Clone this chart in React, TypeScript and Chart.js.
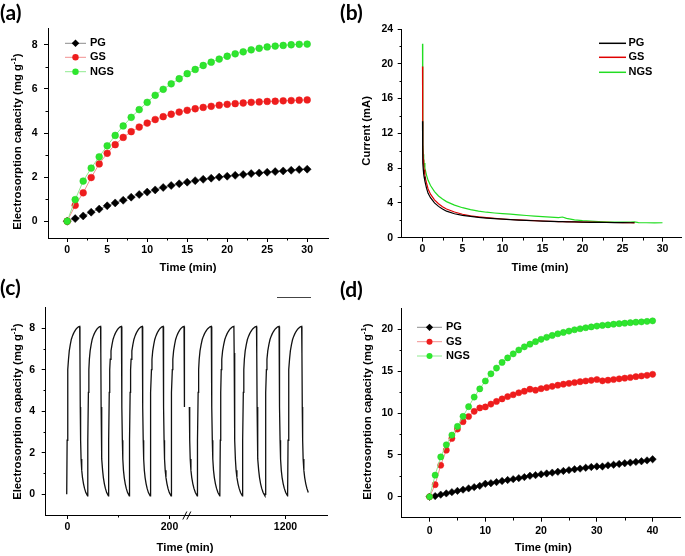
import React, { useEffect, useRef } from "react";
import { Chart, registerables } from "chart.js";

Chart.register(...registerables);

const FONT = '"Liberation Sans", Arial, sans-serif';
const TITLE_SIZE = 11.3;
const TICK_SIZE = 10.5;

// ---------------- (a) electrosorption capacity, 30 min ----------------
const aTime = [0, 1, 2, 3, 4, 5, 6, 7, 8, 9, 10, 11, 12, 13, 14, 15, 16, 17, 18, 19, 20, 21, 22, 23, 24, 25, 26, 27, 28, 29, 30];
const aPG = [0, 0.12, 0.24, 0.41, 0.55, 0.7, 0.83, 0.95, 1.09, 1.21, 1.32, 1.42, 1.53, 1.62, 1.7, 1.77, 1.84, 1.9, 1.95, 2.0, 2.04, 2.08, 2.12, 2.16, 2.19, 2.22, 2.25, 2.28, 2.31, 2.34, 2.36];
const aGS = [0, 0.72, 1.29, 1.98, 2.6, 3.08, 3.47, 3.8, 4.06, 4.27, 4.45, 4.61, 4.74, 4.85, 4.95, 5.03, 5.1, 5.16, 5.21, 5.26, 5.3, 5.33, 5.36, 5.39, 5.41, 5.43, 5.44, 5.46, 5.47, 5.49, 5.5];
const aNGS = [0, 0.98, 1.82, 2.41, 2.92, 3.42, 3.89, 4.32, 4.71, 5.06, 5.39, 5.71, 5.98, 6.23, 6.46, 6.69, 6.88, 7.06, 7.21, 7.35, 7.48, 7.59, 7.68, 7.77, 7.84, 7.9, 7.94, 7.97, 8.0, 8.02, 8.03];
const aXTicks = [0, 5, 10, 15, 20, 25, 30];
const aXMinor = [2.5, 7.5, 12.5, 17.5, 22.5, 27.5];
const aYTicks = [0, 2, 4, 6, 8];
const aYMinor = [1, 3, 5, 7];

// ---------------- (b) current ----------------
const bTime = [0, 0.02, 0.05, 0.1, 0.15, 0.2, 0.3, 0.4, 0.5, 0.7, 1, 1.5, 2, 2.5, 3, 4, 5, 6, 7, 8, 9, 10, 11, 12, 13, 14, 15, 16, 17, 17.5, 18, 19, 20, 21, 22, 23, 24, 25, 26, 26.5, 27, 28, 29, 30];
const bPG = [13.4, 10.5, 8.6, 7.8, 7.3, 7.0, 6.5, 6.1, 5.7, 5.1, 4.6, 4.0, 3.6, 3.3, 3.05, 2.75, 2.57, 2.45, 2.34, 2.26, 2.19, 2.13, 2.08, 2.03, 1.99, 1.95, 1.91, 1.88, 1.85, 1.84, 1.83, 1.81, 1.79, 1.77, 1.76, 1.75, 1.74, 1.73, 1.72, 1.72];
const bGS = [19.7, 14, 10.5, 9.0, 8.3, 7.8, 7.2, 6.7, 6.3, 5.6, 5.0, 4.35, 3.9, 3.55, 3.3, 2.95, 2.7, 2.52, 2.4, 2.3, 2.22, 2.15, 2.09, 2.04, 2.0, 1.96, 1.92, 1.89, 1.86, 1.85, 1.84, 1.82, 1.8, 1.78, 1.77, 1.76, 1.75, 1.74, 1.72, 1.71];
const bNGS = [22.3, 15, 10.8, 9.6, 9.0, 8.6, 8.0, 7.6, 7.2, 6.6, 6.0, 5.3, 4.8, 4.45, 4.15, 3.75, 3.45, 3.22, 3.05, 2.93, 2.84, 2.77, 2.7, 2.62, 2.55, 2.48, 2.42, 2.36, 2.32, 2.38, 2.22, 2.06, 1.96, 1.9, 1.86, 1.82, 1.8, 1.78, 1.79, 1.82, 1.74, 1.72, 1.71, 1.72];
const bXTicks = [0, 5, 10, 15, 20, 25, 30];
const bXMinor = [2.5, 7.5, 12.5, 17.5, 22.5, 27.5];
const bYTicks = [0, 4, 8, 12, 16, 20, 24];
const bYMinor = [2, 6, 10, 14, 18, 22];

// ---------------- (c) cycling, broken time axis ----------------
const cCycleOffset = [0, 0.8, 1.6, 2.5, 3.5, 5, 7, 9, 11, 13, 15, 17, 19, 21, 23, 25.5, 26.0, 26.6, 27.3, 28.2, 29.5, 31, 33, 35, 37.5, 40.9];
const cCycleValue = [0, 2.6, 4.9, 6.0, 6.5, 6.9, 7.2, 7.45, 7.6, 7.72, 7.82, 7.9, 7.97, 8.02, 8.06, 8.08, 6.8, 4.2, 2.6, 1.7, 1.15, 0.8, 0.5, 0.28, 0.08, -0.08];
const cLeftCycleStarts = [0, 41, 82, 123, 164, 205];
const cRightCycleStarts = [999, 1040, 1081, 1122, 1163, 1204];
const cLeftEnd = 231.7;
const cRightBegin = 1025.3;
const cRightEnd = 1242;
const cBreakAt = 236;
const cXLeftMajor = [0, 200];
const cXLeftMinor = [100];
const cXRightMajor = [1200];
const cXRightMinor = [1100];
const cYTicks = [0, 2, 4, 6, 8];
const cYMinor = [1, 3, 5, 7];

// ---------------- (d) electrosorption capacity, 40 min ----------------
const dTime = [0, 1, 2, 3, 4, 5, 6, 7, 8, 9, 10, 11, 12, 13, 14, 15, 16, 17, 18, 19, 20, 21, 22, 23, 24, 25, 26, 27, 28, 29, 30, 31, 32, 33, 34, 35, 36, 37, 38, 39, 40];
const dPG = [0, 0.08, 0.25, 0.4, 0.55, 0.7, 0.85, 1.0, 1.15, 1.3, 1.55, 1.62, 1.75, 1.88, 2.0, 2.1, 2.22, 2.35, 2.5, 2.58, 2.68, 2.78, 2.88, 2.98, 3.08, 3.18, 3.28, 3.36, 3.46, 3.55, 3.62, 3.62, 3.75, 3.82, 3.92, 4.0, 4.08, 4.16, 4.24, 4.34, 4.48];
const dGS = [0, 1.44, 3.76, 5.56, 6.96, 8.08, 8.96, 9.58, 10.2, 10.6, 10.72, 11.06, 11.38, 11.68, 11.96, 12.18, 12.42, 12.6, 12.84, 12.72, 12.9, 13.04, 13.18, 13.32, 13.44, 13.54, 13.64, 13.74, 13.82, 13.9, 14.0, 13.84, 13.92, 14.0, 14.08, 14.16, 14.24, 14.34, 14.42, 14.5, 14.62];
const dNGS = [0, 2.58, 4.76, 6.2, 7.36, 8.4, 9.6, 10.76, 11.9, 12.88, 13.82, 14.68, 15.36, 16.04, 16.58, 17.06, 17.52, 17.9, 18.22, 18.52, 18.8, 19.04, 19.26, 19.46, 19.62, 19.78, 19.94, 20.06, 20.18, 20.28, 20.38, 20.46, 20.52, 20.6, 20.66, 20.72, 20.78, 20.84, 20.88, 20.94, 21.0];
const dXTicks = [0, 10, 20, 30, 40];
const dXMinor = [5, 15, 25, 35];
const dYTicks = [0, 5, 10, 15, 20];
const dYMinor = [2.5, 7.5, 12.5, 17.5];

const seriesNames = ["PG", "GS", "NGS"];

// ---------------- helpers ----------------
type Box = { left: number; top: number; width: number; height: number };
type Area = { l: number; t: number; r: number; b: number };
type Marker = { style: "circle" | "diamond"; color: string; r: number };
type LegendEntry = { label: string; line: string; lineWidth: number; marker?: Marker; y: number };
type Decor = {
  minorX?: number[];
  minorY?: number[];
  yTitle: { x: number; y: number; text: string; sup?: string; tail?: string };
  xTitle: { x: number; y: number; text: string };
  legend?: { x1: number; x2: number; tx: number; entries: LegendEntry[] };
  brokenX?: { leftMajor: number[]; leftMinor: number[]; rightMajor: number[]; rightMinor: number[]; labelY: number; breakAt: number };
};

const pts = (xs: number[], ys: number[]) => ys.map((y, i) => ({ x: xs[i], y }));

function buildCycles(starts: number[], lo: number, hi: number) {
  const out: { x: number; y: number }[] = [];
  starts.forEach((s) =>
    cCycleOffset.forEach((o, i) => {
      const x = s + o;
      if (x >= lo && x <= hi) out.push({ x, y: cCycleValue[i] });
    })
  );
  return out;
}

function drawMarker(ctx: CanvasRenderingContext2D, m: Marker, x: number, y: number) {
  ctx.fillStyle = m.color;
  ctx.beginPath();
  if (m.style === "circle") {
    ctx.arc(x, y, m.r, 0, Math.PI * 2);
  } else {
    ctx.moveTo(x, y - m.r);
    ctx.lineTo(x + m.r, y);
    ctx.lineTo(x, y + m.r);
    ctx.lineTo(x - m.r, y);
    ctx.closePath();
  }
  ctx.fill();
}

function makeDecor(box: Box, d: Decor) {
  return {
    id: "decor",
    afterDraw(chart: any) {
      const ctx = chart.ctx as CanvasRenderingContext2D;
      const a = chart.chartArea;
      const ox = box.left;
      const oy = box.top;
      const xs = chart.scales.x;
      const ys = chart.scales.y;
      const al = (v: number) => Math.round(v) + 0.5;
      const seg = (x1: number, y1: number, x2: number, y2: number) => {
        ctx.beginPath();
        ctx.moveTo(x1, y1);
        ctx.lineTo(x2, y2);
        ctx.stroke();
      };
      ctx.save();
      ctx.strokeStyle = "#000";
      ctx.lineWidth = 1;
      const bottom = Math.round(a.bottom);
      const left = Math.round(a.left);
      (d.minorX || []).forEach((v) => {
        const x = al(xs.getPixelForValue(v));
        seg(x, bottom, x, bottom + 2.5);
      });
      (d.minorY || []).forEach((v) => {
        const y = al(ys.getPixelForValue(v));
        seg(left - 2.5, y, left, y);
      });
      if (d.brokenX) {
        const B = d.brokenX;
        const x2s = chart.scales.x2;
        ctx.font = `bold ${TICK_SIZE}px ${FONT}`;
        ctx.fillStyle = "#000";
        ctx.textAlign = "center";
        ctx.textBaseline = "middle";
        const tick = (sc: any, v: number, major: boolean) => {
          const x = al(sc.getPixelForValue(v));
          seg(x, bottom, x, bottom + (major ? 4 : 2.5));
          if (major) ctx.fillText(String(v), x, B.labelY - oy);
        };
        B.leftMajor.forEach((v) => tick(xs, v, true));
        B.leftMinor.forEach((v) => tick(xs, v, false));
        B.rightMajor.forEach((v) => tick(x2s, v, true));
        B.rightMinor.forEach((v) => tick(x2s, v, false));
        const bx = xs.getPixelForValue(B.breakAt);
        ctx.lineWidth = 1;
        seg(bx - 4, bottom + 4.5, bx, bottom - 3.5);
        seg(bx, bottom + 4.5, bx + 4, bottom - 3.5);
      }
      // titles
      ctx.fillStyle = "#000";
      ctx.font = `bold ${TITLE_SIZE}px ${FONT}`;
      ctx.textAlign = "center";
      ctx.textBaseline = "middle";
      ctx.fillText(d.xTitle.text, d.xTitle.x - ox, d.xTitle.y - oy);
      const T = d.yTitle;
      ctx.save();
      ctx.translate(T.x - ox, T.y - oy);
      ctx.rotate(-Math.PI / 2);
      const mainFont = `bold ${TITLE_SIZE}px ${FONT}`;
      const supFont = `bold ${TITLE_SIZE * 0.68}px ${FONT}`;
      ctx.font = mainFont;
      const w1 = ctx.measureText(T.text).width;
      const w3 = T.tail ? ctx.measureText(T.tail).width : 0;
      ctx.font = supFont;
      const w2 = T.sup ? ctx.measureText(T.sup).width : 0;
      let cx = -(w1 + w2 + w3) / 2;
      ctx.textAlign = "left";
      ctx.font = mainFont;
      ctx.fillText(T.text, cx, 0);
      cx += w1;
      if (T.sup) {
        ctx.font = supFont;
        ctx.fillText(T.sup, cx, -TITLE_SIZE * 0.36);
        cx += w2;
      }
      if (T.tail) {
        ctx.font = mainFont;
        ctx.fillText(T.tail, cx, 0);
      }
      ctx.restore();
      // legend
      if (d.legend) {
        const L = d.legend;
        L.entries.forEach((e) => {
          const y = e.y - oy;
          ctx.strokeStyle = e.line;
          ctx.lineWidth = e.lineWidth;
          seg(L.x1 - ox, y, L.x2 - ox, y);
          if (e.marker) drawMarker(ctx, e.marker, (L.x1 + L.x2) / 2 - ox, y);
          ctx.fillStyle = "#000";
          ctx.font = `bold 11px ${FONT}`;
          ctx.textAlign = "left";
          ctx.textBaseline = "middle";
          ctx.fillText(e.label, L.tx - ox, y);
        });
      }
      ctx.restore();
    },
  };
}

function scale(kind: "x" | "y", min: number, max: number, ticks: number[], pad: number, size: number, hide = false) {
  return {
    type: "linear",
    min,
    max,
    afterBuildTicks: (s: any) => {
      s.ticks = ticks.map((v) => ({ value: v }));
    },
    afterFit: (s: any) => {
      if (kind === "x") s.height = size;
      else s.width = size;
    },
    grid: { display: !hide, drawOnChartArea: false, drawTicks: true, tickLength: 4, tickColor: "#000", tickWidth: 1 },
    border: { display: true, color: "#000", width: 1 },
    ticks: {
      display: !hide,
      color: "#000",
      font: { family: FONT, size: TICK_SIZE, weight: "bold" },
      padding: pad,
      autoSkip: false,
      maxRotation: 0,
      minRotation: 0,
      callback: (v: any) => String(v),
    },
    title: { display: false },
  };
}

function baseOptions(box: Box, area: Area, scales: any) {
  return {
    responsive: false,
    animation: false,
    events: [],
    layout: { padding: { left: 0, top: area.t - box.top, right: box.left + box.width - area.r, bottom: 0 } },
    plugins: { legend: { display: false }, tooltip: { enabled: false } },
    scales,
  };
}

const PG_COL = "#000000";
const GS_COL = "#ee1d1d";
const NGS_COL = "#2ee62e";
const PG_LINE = "#8c8c8c";
const GS_LINE = "#f29090";
const NGS_LINE = "#90ea90";

function capacityDatasets(t: number[], pg: number[], gs: number[], ngs: number[], r: number) {
  return [
    { label: seriesNames[0], data: pts(t, pg), borderColor: PG_LINE, borderWidth: 1, pointStyle: "rectRot", pointRadius: r + 0.6, pointBackgroundColor: PG_COL, pointBorderColor: PG_COL, pointBorderWidth: 0.5, order: 3 },
    { label: seriesNames[1], data: pts(t, gs), borderColor: GS_LINE, borderWidth: 1, pointStyle: "circle", pointRadius: r, pointBackgroundColor: GS_COL, pointBorderColor: GS_COL, pointBorderWidth: 0.5, order: 2 },
    { label: seriesNames[2], data: pts(t, ngs), borderColor: NGS_LINE, borderWidth: 1, pointStyle: "circle", pointRadius: r, pointBackgroundColor: NGS_COL, pointBorderColor: "#25d025", pointBorderWidth: 0.5, order: 1 },
  ];
}

function capacityLegend(x1: number, x2: number, tx: number, ys: number[], r: number) {
  return {
    x1,
    x2,
    tx,
    entries: [
      { label: seriesNames[0], line: PG_LINE, lineWidth: 1, marker: { style: "diamond" as const, color: PG_COL, r: r + 0.6 }, y: ys[0] },
      { label: seriesNames[1], line: GS_LINE, lineWidth: 1, marker: { style: "circle" as const, color: GS_COL, r }, y: ys[1] },
      { label: seriesNames[2], line: NGS_LINE, lineWidth: 1, marker: { style: "circle" as const, color: NGS_COL, r }, y: ys[2] },
    ],
  };
}

// ---------------- panels ----------------
const boxA: Box = { left: 0, top: 0, width: 342, height: 280 };
const areaA: Area = { l: 48, t: 28, r: 328, b: 238 };
const boxB: Box = { left: 342, top: 0, width: 343, height: 280 };
const areaB: Area = { l: 401.7, t: 29, r: 681.7, b: 237.7 };
const boxC: Box = { left: 0, top: 278, width: 342, height: 278 };
const areaC: Area = { l: 45.7, t: 307.3, r: 327.5, b: 515 };
const boxD: Box = { left: 342, top: 278, width: 343, height: 278 };
const areaD: Area = { l: 401.7, t: 308.3, r: 683.3, b: 517.7 };

const capTitle = { text: "Electrosorption capacity (mg g", sup: "-1", tail: ")" };

function configA() {
  return {
    type: "line",
    data: { datasets: capacityDatasets(aTime, aPG, aGS, aNGS, 3.4) },
    options: baseOptions(boxA, areaA, {
      x: scale("x", -2.4, 32.6, aXTicks, 1.5, boxA.top + boxA.height - areaA.b),
      y: scale("y", -0.76, 8.76, aYTicks, 6.5, areaA.l - boxA.left),
    }),
    plugins: [
      makeDecor(boxA, {
        minorX: aXMinor,
        minorY: aYMinor,
        yTitle: { x: 18.3, y: 141.7, ...capTitle },
        xTitle: { x: 188, y: 267.7, text: "Time (min)" },
        legend: capacityLegend(65, 86, 90, [43.3, 57.3, 71.7], 3.2),
      }),
    ],
  };
}

function configB() {
  return {
    type: "line",
    data: {
      datasets: [
        { label: seriesNames[0], data: pts(bTime, bPG), borderColor: "#000000", borderWidth: 1.2, pointRadius: 0, order: 1 },
        { label: seriesNames[1], data: pts(bTime, bGS), borderColor: "#e00000", borderWidth: 1.2, pointRadius: 0, order: 2 },
        { label: seriesNames[2], data: pts(bTime, bNGS), borderColor: "#22dd22", borderWidth: 1.2, pointRadius: 0, order: 3 },
      ],
    },
    options: baseOptions(boxB, areaB, {
      x: scale("x", -2.6, 32.4, bXTicks, 1.5, boxB.top + boxB.height - areaB.b),
      y: scale("y", 0, 24, bYTicks, 4.5, areaB.l - boxB.left),
    }),
    plugins: [
      makeDecor(boxB, {
        minorX: bXMinor,
        minorY: bYMinor,
        yTitle: { x: 366.7, y: 130.8, text: "Current (mA)" },
        xTitle: { x: 540, y: 267.7, text: "Time (min)" },
        legend: {
          x1: 599,
          x2: 626,
          tx: 628.5,
          entries: [
            { label: seriesNames[0], line: "#000000", lineWidth: 1.5, y: 43.3 },
            { label: seriesNames[1], line: "#e00000", lineWidth: 1.5, y: 57.3 },
            { label: seriesNames[2], line: "#22dd22", lineWidth: 1.5, y: 72.3 },
          ],
        },
      }),
    ],
  };
}

function configC() {
  const xs = scale("x", -41.3, 512.4, [], 0, boxC.top + boxC.height - areaC.b, true);
  return {
    type: "line",
    data: {
      datasets: [
        { label: "left", data: buildCycles(cLeftCycleStarts, 0, cLeftEnd), xAxisID: "x", borderColor: "#111111", borderWidth: 1.3, pointRadius: 0 },
        { label: "right", data: buildCycles(cRightCycleStarts, cRightBegin, cRightEnd), xAxisID: "x2", borderColor: "#111111", borderWidth: 1.3, pointRadius: 0 },
      ],
    },
    options: baseOptions(boxC, areaC, {
      x: xs,
      x2: { type: "linear", display: false, min: 764.9, max: 1276.4, position: "bottom" },
      y: scale("y", -1, 9, cYTicks, 6.5, areaC.l - boxC.left),
    }),
    plugins: [
      makeDecor(boxC, {
        minorY: cYMinor,
        yTitle: { x: 18.3, y: 411.7, ...capTitle },
        xTitle: { x: 185, y: 547.7, text: "Time (min)" },
        brokenX: { leftMajor: cXLeftMajor, leftMinor: cXLeftMinor, rightMajor: cXRightMajor, rightMinor: cXRightMinor, labelY: 526.7, breakAt: cBreakAt },
      }),
    ],
  };
}

function configD() {
  return {
    type: "line",
    data: { datasets: capacityDatasets(dTime, dPG, dGS, dNGS, 3.1) },
    options: baseOptions(boxD, areaD, {
      x: scale("x", -5, 45, dXTicks, 3, boxD.top + boxD.height - areaD.b),
      y: scale("y", -2.5, 22.5, dYTicks, 4.5, areaD.l - boxD.left),
    }),
    plugins: [
      makeDecor(boxD, {
        minorX: dXMinor,
        minorY: dYMinor,
        yTitle: { x: 368.3, y: 411.7, ...capTitle },
        xTitle: { x: 543.3, y: 548.3, text: "Time (min)" },
        legend: capacityLegend(417, 442, 446, [327.3, 341.7, 356], 3.0),
      }),
    ],
  };
}

function ChartPanel({ box, build }: { box: Box; build: () => any }) {
  const ref = useRef<HTMLCanvasElement>(null);
  useEffect(() => {
    const chart = new Chart(ref.current as HTMLCanvasElement, build());
    return () => chart.destroy();
  }, []);
  return (
    <canvas
      ref={ref}
      width={box.width}
      height={box.height}
      style={{ position: "absolute", left: box.left, top: box.top, width: box.width, height: box.height }}
    />
  );
}

const panelLabelStyle = (left: number, top: number): React.CSSProperties => ({
  position: "absolute",
  left,
  top,
  font: "bold 21px Lato, 'Open Sans', sans-serif",
  lineHeight: "24px",
  color: "#000",
});

export default function App() {
  return (
    <div style={{ position: "absolute", left: 0, top: 0, width: 685, height: 556, background: "#fff", overflow: "hidden" }}>
      <ChartPanel box={boxA} build={configA} />
      <ChartPanel box={boxB} build={configB} />
      <ChartPanel box={boxC} build={configC} />
      <ChartPanel box={boxD} build={configD} />
      <div style={panelLabelStyle(0, 0)}>(a)</div>
      <div style={panelLabelStyle(340, 0)}>(b)</div>
      <div style={panelLabelStyle(0, 275)}>(c)</div>
      <div style={panelLabelStyle(340, 277)}>(d)</div>
      <div style={{ position: "absolute", left: 277, top: 297, width: 34, height: 0, borderTop: "1px solid #444" }} />
    </div>
  );
}
